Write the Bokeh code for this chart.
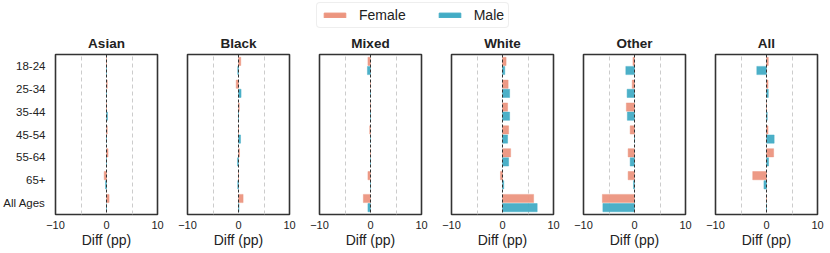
from bokeh.plotting import figure
from bokeh.models import (ColumnDataSource, Range1d, FactorRange, FixedTicker, Span,
                          Legend, LegendItem)
from bokeh.layouts import row, column
from bokeh.transform import dodge
from bokeh.embed import file_html
from bokeh.resources import INLINE

ages = ["18-24", "25-34", "35-44", "45-54", "55-64", "65+", "All Ages"]
groups = ["Asian", "Black", "Mixed", "White", "Other", "All"]

asian_female = [0.0, 0.15, 0.0, 0.15, 0.3, -0.45, 0.5]
asian_male = [0.0, 0.0, 0.2, 0.0, 0.0, -0.2, 0.0]
black_female = [0.45, -0.45, 0.15, 0.0, 0.2, 0.0, 0.9]
black_male = [-0.15, 0.5, 0.0, 0.4, -0.2, -0.15, 0.1]
mixed_female = [-0.5, 0.0, 0.0, -0.15, 0.0, -0.5, -1.4]
mixed_male = [-0.6, 0.0, 0.0, 0.0, 0.0, 0.0, -0.5]
white_female = [0.7, 1.1, 1.0, 1.2, 1.6, -0.4, 6.1]
white_male = [0.45, 1.4, 1.4, 1.0, 1.2, 0.25, 6.8]
other_female = [-0.3, -0.45, -1.6, -0.85, -1.25, -1.25, -6.3]
other_male = [-1.7, -1.45, -1.4, 0.0, -0.85, -0.2, -6.2]
all_female = [0.35, 0.3, 0.0, 0.3, 1.4, -2.7, 0.0]
all_male = [-1.9, 0.35, 0.15, 1.5, 0.4, -0.5, 0.0]

female_vals = [asian_female, black_female, mixed_female, white_female, other_female, all_female]
male_vals = [asian_male, black_male, mixed_male, white_male, other_male, all_male]

x_ticks = [-10, 0, 10]
tick_labels = {-10: "\u221210", 0: "0", 10: "10"}

FEMALE = "#EC957F"
MALE = "#42ACC5"
FONT = "Liberation Sans"


def no_ticks(ax):
    ax.major_tick_line_color = None
    ax.minor_tick_line_color = None
    ax.major_tick_out = 0
    ax.major_tick_in = 0
    ax.minor_tick_out = 0
    ax.minor_tick_in = 0
    ax.axis_line_color = None


figs = []
n = len(groups)
for i, g in enumerate(groups):
    src = ColumnDataSource(dict(age=ages, female=female_vals[i], male=male_vals[i]))
    left_b = 55 if i == 0 else 15
    right_b = 8 if i == n - 1 else 15
    w = left_b + 102 + right_b
    p = figure(width=w, height=224, output_backend="svg", toolbar_location=None,
               x_range=Range1d(-10, 10),
               y_range=FactorRange(factors=list(reversed(ages)), range_padding=0),
               min_border_left=left_b, min_border_right=right_b,
               min_border_top=24, min_border_bottom=39, title=g,
               width_policy="fixed", height_policy="fixed")
    p.title.text_font = FONT
    p.title.text_font_style = "bold"
    p.title.text_font_size = "13.5px"
    p.title.text_color = "#222222"
    p.title.align = "center"
    p.title.standoff = 8
    p.title.offset = 0

    p.hbar(y=dodge("age", 0.2, range=p.y_range), right="female", left=0, height=0.36,
           source=src, fill_color=FEMALE, fill_alpha=0.95, line_color=FEMALE,
           line_alpha=0.45, line_width=1)
    p.hbar(y=dodge("age", -0.2, range=p.y_range), right="male", left=0, height=0.36,
           source=src, fill_color=MALE, fill_alpha=0.95, line_color=MALE,
           line_alpha=0.45, line_width=1)

    p.add_layout(Span(location=0, dimension="height", line_color="#333333",
                      line_dash="3 2", line_width=1))

    p.xaxis.ticker = FixedTicker(ticks=x_ticks)
    p.xaxis.major_label_overrides = tick_labels
    p.xaxis.major_label_text_font = FONT
    p.xaxis.major_label_text_font_size = "11px"
    p.xaxis.major_label_text_color = "#222222"
    p.xaxis.major_label_standoff = 6
    p.xaxis.axis_label = "Diff (pp)"
    p.xaxis.axis_label_text_font = FONT
    p.xaxis.axis_label_text_font_size = "14px"
    p.xaxis.axis_label_text_font_style = "normal"
    p.xaxis.axis_label_text_color = "#222222"
    p.xaxis.axis_label_standoff = 0
    no_ticks(p.xaxis[0])

    if i == 0:
        p.yaxis.major_label_text_font = FONT
        p.yaxis.major_label_text_font_size = "11.5px"
        p.yaxis.major_label_text_color = "#222222"
        p.yaxis.major_label_standoff = 10
        no_ticks(p.yaxis[0])
    else:
        p.yaxis.visible = False

    p.xgrid.ticker = FixedTicker(ticks=[-5, 5])
    p.xgrid.grid_line_color = "#cccccc"
    p.xgrid.grid_line_dash = "4 3"
    p.xgrid.grid_line_width = 1
    p.ygrid.grid_line_color = None

    p.outline_line_color = "#333333"
    p.outline_line_width = 1.6
    p.outline_line_alpha = 1
    figs.append(p)

total_w = sum(f.width for f in figs)
lg = figure(width=total_w, height=29, output_backend="svg", toolbar_location=None,
            x_range=Range1d(0, 1), y_range=Range1d(0, 1), min_border=0,
            width_policy="fixed", height_policy="fixed")
lg.axis.visible = False
lg.grid.visible = False
lg.outline_line_color = None
rf = lg.hbar(y=[5], right=[5], left=[4], height=0.5, fill_color=FEMALE, line_color=FEMALE)
rm = lg.hbar(y=[5], right=[5], left=[4], height=0.5, fill_color=MALE, line_color=MALE)
legend = Legend(items=[LegendItem(label="Female", renderers=[rf]),
                       LegendItem(label="Male", renderers=[rm])],
                orientation="horizontal", location=(316, 1))
legend.glyph_width = 27
legend.glyph_height = 6
legend.label_standoff = 11
legend.spacing = 30
legend.padding = 4
legend.margin = 0
legend.label_text_font = FONT
legend.label_text_font_size = "14px"
legend.label_text_color = "#222222"
legend.label_height = 14
legend.border_line_color = "#dddddd"
legend.border_line_width = 1
try:
    legend.border_radius = 4
except Exception:
    pass
lg.add_layout(legend, "center")

layout = column(lg, row(*figs))
open("out.html", "w").write(file_html(layout, INLINE))
